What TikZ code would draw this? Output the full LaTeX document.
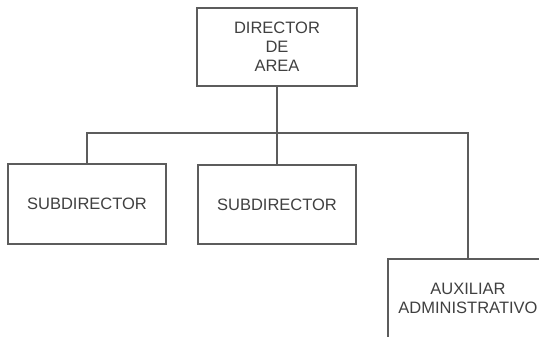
\documentclass[tikz,border=0pt]{standalone}
\usepackage{fontspec}
\setmainfont{Liberation Sans}
\definecolor{inkline}{gray}{0.36}
\definecolor{inktext}{gray}{0.25}
\begin{document}
\begin{tikzpicture}[x=1pt,y=-1pt,
  orgbox/.style={draw=inkline, line width=1.2pt, fill=white, align=center,
    text=inktext, inner sep=0pt,
    font=\fontsize{16.5}{19}\selectfont},
  link/.style={draw=inkline, line width=1.2pt}]
  \useasboundingbox (0,0) rectangle (539,337);
  \clip (0,0) rectangle (539,337);
  \fill[white] (0,0) rectangle (539,337);

  % boxes of the chart
  \node[orgbox, minimum width=160pt, minimum height=78pt] (dir) at (277,47) {DIRECTOR\\DE\\AREA};
  \node[orgbox, minimum width=158pt, minimum height=80pt] (sub1) at (87,204) {SUBDIRECTOR};
  \node[orgbox, minimum width=158pt, minimum height=79pt] (sub2) at (277,204.5) {SUBDIRECTOR};
  \node[orgbox, minimum width=160pt, minimum height=79pt] (aux) at (468,298.5) {AUXILIAR\\ADMINISTRATIVO};

  % reporting lines
  \coordinate (busL) at (sub1.north |- 0,133);
  \draw[link] (dir.south) -- (sub2.north);
  \draw[link] (sub1.north) -- (busL) -| (aux.north);
\end{tikzpicture}
\end{document}
